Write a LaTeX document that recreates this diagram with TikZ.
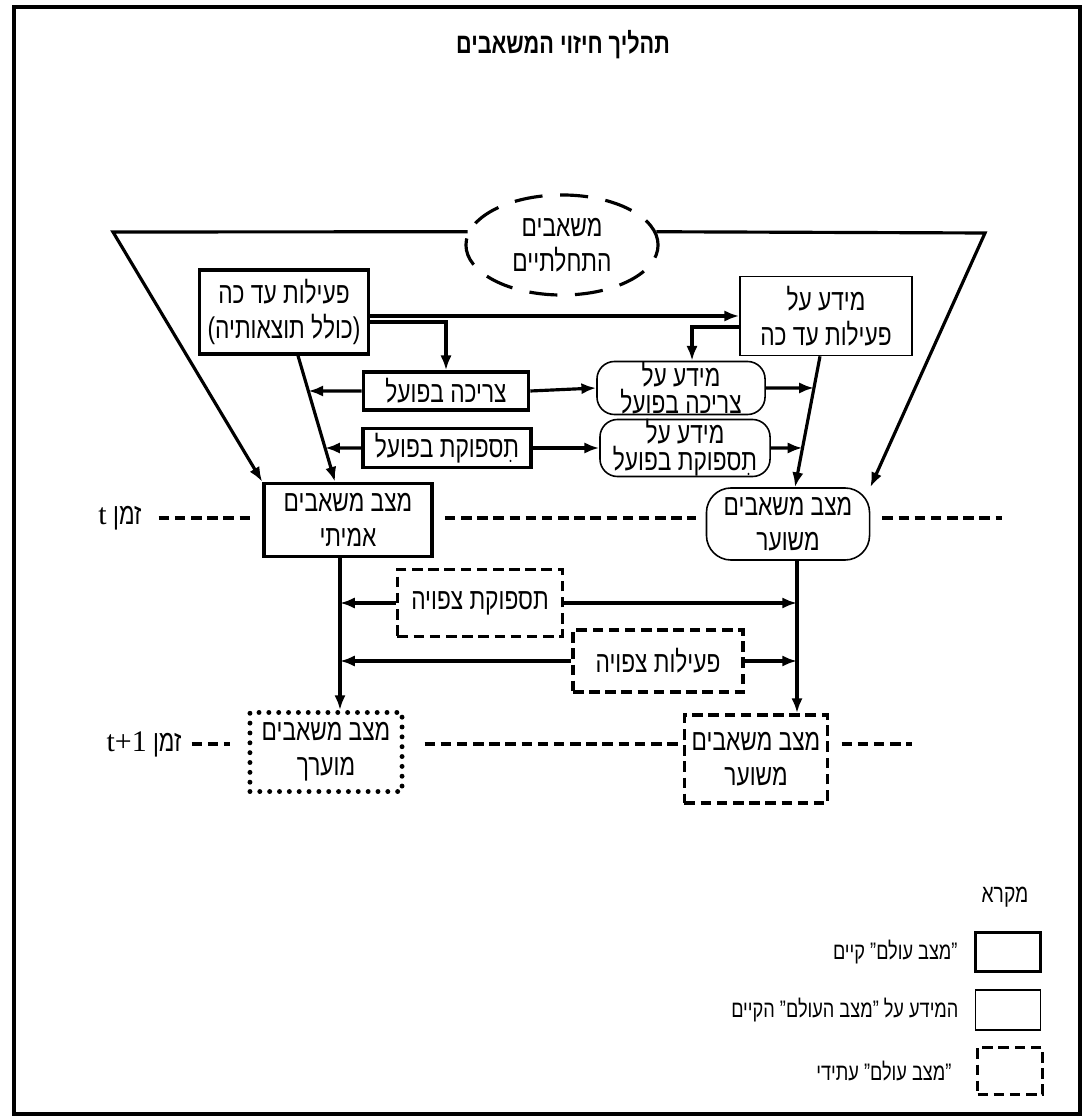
\documentclass[tikz,border=0pt]{standalone}
\usepackage{fontspec}
\setmainfont{Liberation Sans}
\newfontfamily\hebfont[Script=Hebrew, FakeStretch=0.76]{Liberation Sans}
\newfontfamily\latfont{Liberation Serif}
\TeXXeTstate=1
\newcommand{\rtl}[1]{\beginR #1\endR}
\usetikzlibrary{positioning,arrows.meta,shapes.geometric}

\begin{document}
\begin{tikzpicture}[x=0.01cm, y=-0.01cm, >={Latex[length=4.2pt,width=3.2pt]},
  every node/.style={font=\hebfont\fontsize{8.5}{10}\selectfont, align=center, inner sep=1pt},
  tight/.style={font=\hebfont\fontsize{8.5}{7.6}\selectfont, inner ysep=0pt},
  small/.style={font=\hebfont\fontsize{6.8}{8}\selectfont},
  real/.style={draw, line width=1pt},
  info/.style={draw, line width=0.45pt},
  soft/.style={info, rounded corners=5pt},
  future/.style={draw, line width=1.1pt, dash pattern=on 3pt off 1.6pt},
  guess/.style={draw, line width=1.4pt, line cap=round, dash pattern=on 0pt off 2.8pt},
  flow/.style={->, line width=0.9pt},
  tline/.style={line width=1.2pt, dash pattern=on 3pt off 1.6pt}]
  \useasboundingbox (0,0) rectangle (1089,1116);
  \draw[line width=1pt] (14,7) rectangle (1080,1114);
  \node[font=\hebfont\bfseries\fontsize{8.1}{10}\selectfont] (title) at (563,45) {\rtl{תהליך חיזוי המשאבים}};

  \node[draw, ellipse, line width=0.9pt, dash pattern=on 8pt off 5pt, minimum width=1.92cm, minimum height=1.0cm, inner sep=0pt] (init) at (562,245) {\rtl{משאבים}\\\rtl{התחלתיים}};
  \node[real, minimum width=1.69cm, minimum height=0.84cm] (past) at (284,312) {\rtl{פעילות עד כה}\\\rtl{(כולל תוצאותיה)}};
  \node[info, minimum width=1.72cm, minimum height=0.79cm] (pastinfo) at (826,316) {\rtl{מידע על}\\\rtl{פעילות עד כה}};
  \node[real, minimum width=1.65cm, minimum height=0.38cm] (cons) at (446,391) {\rtl{צריכה בפועל}};
  \node[real, minimum width=1.68cm, minimum height=0.39cm] (supp) at (447,448) {\rtl{תִספוקת בפועל}};
  \node[soft, tight, minimum width=1.68cm, minimum height=0.53cm] (consinfo) at (681,388) {\rtl{מידע על}\\\rtl{צריכה בפועל}};
  \node[soft, tight, minimum width=1.70cm, minimum height=0.57cm] (suppinfo) at (685,448) {\rtl{מידע על}\\\rtl{תִספוקת בפועל}};
  \node[real, minimum width=1.68cm, minimum height=0.73cm] (actual) at (348,520) {\rtl{מצב משאבים}\\\rtl{אמיתי}};
  \node[soft, rounded corners=7pt, minimum width=1.63cm, minimum height=0.72cm] (est) at (788,524) {\rtl{מצב משאבים}\\\rtl{משוער}};
  \node[future, minimum width=1.65cm, minimum height=0.67cm] (expsupp) at (480,603) {\rtl{תספוקת צפויה}};
  \node[future, minimum width=1.70cm, minimum height=0.62cm] (expact) at (658,661) {\rtl{פעילות צפויה}};
  \node[guess, minimum width=1.52cm, minimum height=0.79cm] (evalnext) at (326,752) {\rtl{מצב משאבים}\\\rtl{מוערך}};
  \node[future, minimum width=1.43cm, minimum height=0.88cm] (estnext) at (756,759) {\rtl{מצב משאבים}\\\rtl{משוער}};

  % time marks
  \node (tnow) at (120,518) {\rtl{זמן {\latfont t}}};
  \node (tnext) at (144,744) {\rtl{זמן \beginL{\latfont t+1}\endL}};
  \coordinate (tend) at (1002,518);
  \coordinate (tnextend) at (912,744);

  \coordinate (ltop) at (113,232);
  \coordinate (rtop) at (985,233);
  \draw[flow] (init.172) -- (ltop) -- (actual.north west);
  \draw[flow] (init.8) -- (rtop) -- (est.north east);

  \draw[flow] (past.east |- pastinfo.west) -- (pastinfo.west);
  \draw[flow] ([yshift=-0.1cm]past.east) -| (cons.north);
  \draw[flow] ([yshift=-0.11cm]pastinfo.west) -| ([xshift=0.11cm]consinfo.north);

  \coordinate (la) at ([xshift=0.14cm]past.south);
  \coordinate (lb) at ([xshift=-0.13cm]actual.north);
  \coordinate (ra) at ([xshift=-0.06cm]pastinfo.south);
  \coordinate (rb) at ([xshift=0.07cm]est.north);
  \draw[flow] (la) -- (lb);
  \draw[flow] (ra) -- (rb);
  \draw[flow] (cons.east) -- (consinfo.west);
  \draw[flow] (supp.east) -- (suppinfo.west);
  \draw[flow] (cons.west) -- (intersection of la--lb and cons.west--cons.east);
  \draw[flow] (supp.west) -- (intersection of la--lb and supp.west--supp.east);
  \draw[flow] (consinfo.east) -- (intersection of ra--rb and consinfo.west--consinfo.east);
  \draw[flow] (suppinfo.east) -- (intersection of ra--rb and suppinfo.west--suppinfo.east);

  \coordinate (vl) at ([xshift=-0.08cm]actual.south);
  \coordinate (vr) at ([xshift=0.09cm]est.south);
  \draw[flow] (vl) -- (vl |- evalnext.north);
  \draw[flow] (vr) -- (vr |- estnext.north);
  \draw[flow] (expsupp.west) -- (expsupp.west -| vl);
  \draw[flow] (expsupp.east) -- (expsupp.east -| vr);
  \draw[flow] (expact.west) -- (expact.west -| vl);
  \draw[flow] (expact.east) -- (expact.east -| vr);

  \draw[tline, shorten <=0.13cm, shorten >=0.11cm] (tnow.east) -- (tnow -| actual.west);
  \draw[tline, shorten <=0.11cm, shorten >=0.1cm] (tnow -| actual.east) -- (tnow -| est.west);
  \draw[tline, shorten <=0.12cm] (tnow -| est.east) -- (tend);
  \draw[tline, shorten <=0.06cm, shorten >=0.17cm] (tnext.east) -- (tnext -| evalnext.west);
  \draw[tline, shorten <=0.2cm, shorten >=0.05cm] (tnext -| evalnext.east) -- (tnext -| estnext.west);
  \draw[tline, shorten <=0.12cm] (tnext -| estnext.east) -- (tnextend);

  % legend
  \node[font=\hebfont\fontsize{7.2}{8}\selectfont] (legtitle) at (1005,897) {\rtl{מקרא}};
  \node[real, minimum width=0.65cm, minimum height=0.39cm] (lgA) at (1008,952) {};
  \node[info, minimum width=0.65cm, minimum height=0.40cm] (lgB) at (1008,1010) {};
  \node[future, minimum width=0.65cm, minimum height=0.47cm] (lgC) at (1010,1071) {};
  \node[small, left=0.12cm of lgA] (lgAtxt) {\rtl{”מצב עולם” קיים}};
  \node[small, left=0.12cm of lgB] (lgBtxt) {\rtl{המידע על ”מצב העולם” הקיים}};
  \node[small, left=0.2cm of lgC] (lgCtxt) {\rtl{”מצב עולם” עתידי}};
\end{tikzpicture}
\end{document}
